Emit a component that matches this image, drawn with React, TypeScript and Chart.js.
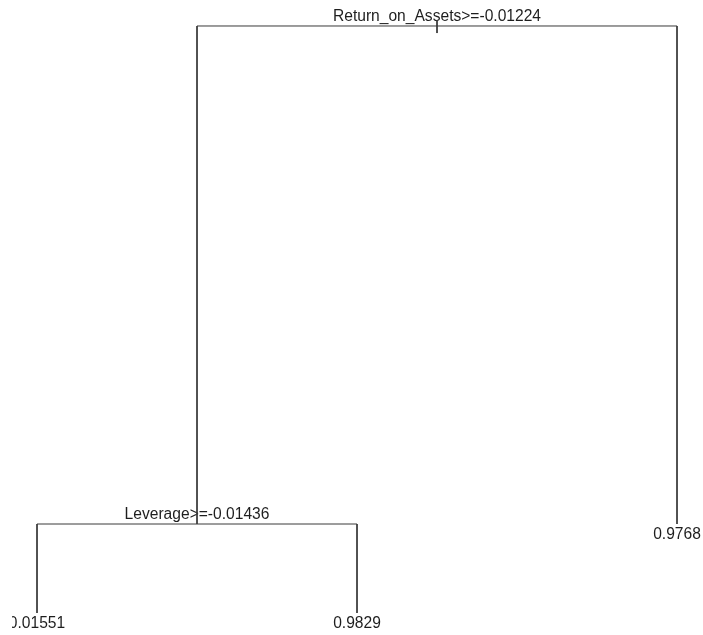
import React, { useEffect, useRef } from "react";
import { Chart, registerables } from "chart.js";

Chart.register(...registerables);

// Split nodes (root first)
const splitNames = ["Return_on_Assets>=-0.01224", "Leverage>=-0.01436"];
const splitX = [2.25, 1.5];
const splitHeight = [1.0, 0.1516];

// Leaves (fitted values)
const leafValues = ["0.01551", "0.9829", "0.9768"];
const leafX = [1, 2, 3];
const leafHeight = [0, 0, 0.1516];

// Tree structure: children of each split node
const splitChildren = [
  [{ kind: "split", i: 1 }, { kind: "leaf", i: 2 }],
  [{ kind: "leaf", i: 0 }, { kind: "leaf", i: 1 }],
];

const LINE = "#3a3a3a";
const TEXT = "#1e1e1e";
const FONT = '15.6px "Liberation Sans", Arial, sans-serif';

function nodePos(n: { kind: string; i: number }) {
  return n.kind === "split"
    ? { x: splitX[n.i], y: splitHeight[n.i] }
    : { x: leafX[n.i], y: leafHeight[n.i] };
}

function buildSegments() {
  const segs: { x: number; y: number }[][] = [];
  splitChildren.forEach((kids, s) => {
    const h = splitHeight[s];
    const l = nodePos(kids[0]);
    const r = nodePos(kids[1]);
    segs.push([{ x: l.x, y: h }, { x: r.x, y: h }]);
    kids.forEach((k) => {
      const p = nodePos(k);
      segs.push([{ x: p.x, y: h }, { x: p.x, y: p.y }]);
    });
  });
  // root marker tick
  segs.push([
    { x: splitX[0], y: splitHeight[0] + 0.0102 },
    { x: splitX[0], y: splitHeight[0] - 0.012 },
  ]);
  return segs;
}

const labelPlugin = {
  id: "treeLabels",
  beforeDatasetsDraw(chart: any) {
    const { ctx, chartArea, scales } = chart;
    const xs = scales.x;
    const ys = scales.y;
    ctx.save();
    ctx.beginPath();
    ctx.rect(chartArea.left, chartArea.top, chartArea.right - chartArea.left, chartArea.bottom - chartArea.top);
    ctx.clip();
    ctx.font = FONT;
    ctx.fillStyle = TEXT;
    ctx.textAlign = "center";
    ctx.textBaseline = "alphabetic";
    splitNames.forEach((name, i) => {
      const px = xs.getPixelForValue(splitX[i]);
      const py = ys.getPixelForValue(splitHeight[i]);
      ctx.fillText(name, px, py - 5);
    });
    leafValues.forEach((v, i) => {
      const px = xs.getPixelForValue(leafX[i]);
      const py = ys.getPixelForValue(leafHeight[i]);
      ctx.fillText(v, px, py + 15.2);
    });
    ctx.restore();
  },
};

export default function App() {
  const ref = useRef<HTMLCanvasElement | null>(null);
  useEffect(() => {
    if (!ref.current) return;
    const segs = buildSegments();
    const chart = new Chart(ref.current, {
      type: "scatter",
      data: {
        datasets: segs.map((s) => ({
          data: s,
          showLine: true,
          borderColor: LINE,
          borderWidth: 1,
          pointRadius: 0,
          pointHoverRadius: 0,
          fill: false,
        })),
      },
      options: {
        animation: false,
        responsive: true,
        maintainAspectRatio: false,
        layout: { padding: { left: 12, right: 0, top: 0, bottom: 0 } },
        plugins: { legend: { display: false }, tooltip: { enabled: false } },
        events: [],
        scales: {
          x: { type: "linear", display: false, min: 0.921875, max: 3.08125 },
          y: { type: "linear", display: false, min: -0.03748, max: 1.04429 },
        },
      },
      plugins: [labelPlugin],
    });
    return () => chart.destroy();
  }, []);
  return (
    <div style={{ position: "fixed", left: 0, top: 0, width: 703, height: 635, background: "#fff" }}>
      <canvas ref={ref} />
    </div>
  );
}
